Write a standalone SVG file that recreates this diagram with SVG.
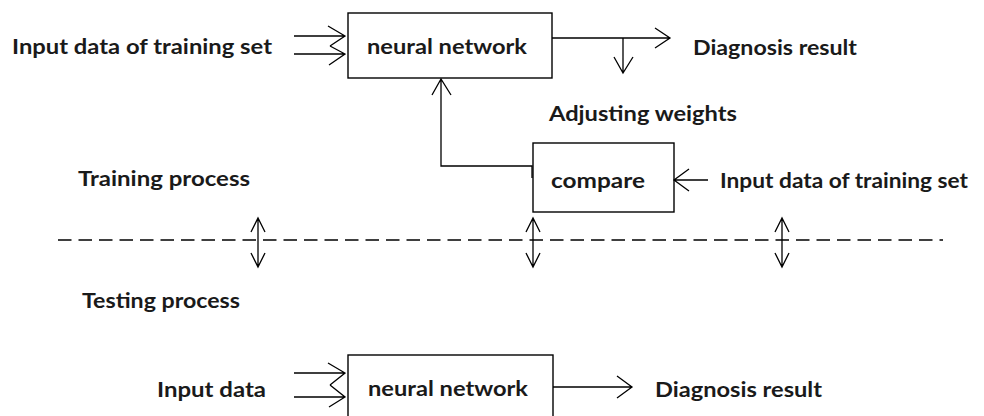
<svg xmlns="http://www.w3.org/2000/svg" width="984" height="416" viewBox="0 0 984 416">
<style>
.t{font-family:Lato,"Open Sans","Liberation Sans",sans-serif;font-weight:bold;font-size:21px;fill:#1a1a1a}
.box{fill:#fff;stroke:#000;stroke-width:1.4}
.ln{fill:none;stroke:#000;stroke-width:1.3}
.dash{fill:none;stroke:#000;stroke-width:1.3;stroke-dasharray:13.5 7}
</style>
<rect width="984" height="416" fill="#fff"/>
<g id="label-train-input"><text class="t" x="12" y="54" textLength="260" lengthAdjust="spacingAndGlyphs">Input data of training set</text></g>
<g id="nn-train"><rect class="box" x="348" y="13" width="204" height="65"/><text class="t" x="367" y="54" textLength="160" lengthAdjust="spacingAndGlyphs">neural network</text></g>
<g id="label-diag-top"><text class="t" x="693" y="55" textLength="164" lengthAdjust="spacingAndGlyphs">Diagnosis result</text></g>
<g id="label-adjust"><text class="t" x="549" y="121" textLength="188" lengthAdjust="spacingAndGlyphs">Adjusting weights</text></g>
<g id="compare"><rect class="box" x="533" y="143" width="141" height="69"/><text class="t" x="551" y="188" textLength="94" lengthAdjust="spacingAndGlyphs">compare</text></g>
<g id="label-compare-input"><text class="t" x="720" y="188" textLength="248" lengthAdjust="spacingAndGlyphs">Input data of training set</text></g>
<g id="label-training"><text class="t" x="78" y="186" textLength="172" lengthAdjust="spacingAndGlyphs">Training process</text></g>
<g id="label-testing"><text class="t" x="82" y="308" textLength="158" lengthAdjust="spacingAndGlyphs">Testing process</text></g>
<g id="label-test-input"><text class="t" x="157" y="397" textLength="109" lengthAdjust="spacingAndGlyphs">Input data</text></g>
<g id="nn-test"><rect class="box" x="348" y="355" width="205" height="70"/><text class="t" x="368" y="396" textLength="160" lengthAdjust="spacingAndGlyphs">neural network</text></g>
<g id="label-diag-bottom"><text class="t" x="655" y="397" textLength="167" lengthAdjust="spacingAndGlyphs">Diagnosis result</text></g>
<g id="connectors">
<path class="ln" d="M294,36H345M328,26L345,36L330,46M294,54H345M330,46L345,54L329,65"/>
<path class="ln" d="M552,38H670M655,28L670,38L655,48"/>
<path class="ln" d="M623,38V73M614,57L623,73L633,57"/>
<path class="ln" d="M532,178V166H441V79M432,95L441,79L451,95"/>
<path class="ln" d="M708,180H674M689,169L674,180L689,191"/>
<path class="dash" d="M58,240H943"/>
<path class="ln" d="M258,218V267M251,232L258,218L265,232M251,253L258,267L265,253"/>
<path class="ln" d="M533,218V267M526,232L533,218L540,232M526,253L533,267L540,253"/>
<path class="ln" d="M782,218V267M775,232L782,218L789,232M775,253L782,267L789,253"/>
<path class="ln" d="M294,373H345M328,363L345,373L330,385M294,397H345M330,385L345,397L329,407"/>
<path class="ln" d="M553,387H632M617,376L632,387L617,398"/>
</g>
</svg>
